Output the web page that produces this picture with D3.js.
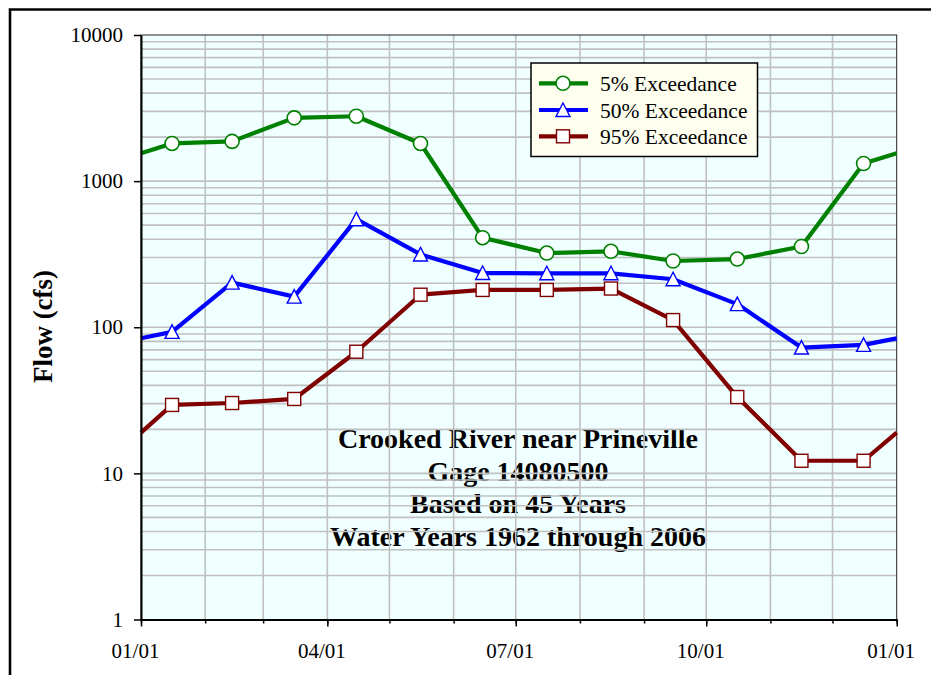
<!DOCTYPE html>
<html>
<head>
<meta charset="utf-8">
<script src="https://cdn.jsdelivr.net/npm/d3@7"></script>
<style>
  html, body { margin: 0; padding: 0; background: #ffffff; }
  svg { display: block; }
</style>
</head>
<body>
<svg id="chart" width="931" height="675"></svg>
<script>
// ---------------- data ----------------
const pointDates = ["2006-01-16","2006-02-14","2006-03-16","2006-04-15","2006-05-16","2006-06-15",
                    "2006-07-16","2006-08-16","2006-09-15","2006-10-16","2006-11-16","2006-12-16"];
const exceed5  = [1810, 1870, 2710, 2780, 1810, 410, 322, 331, 284, 293, 357, 1320];
const exceed50 = [93, 202, 162, 549, 315, 235, 234, 234, 213, 144, 72.6, 75.8];
const exceed95 = [29.4, 30.3, 32.3, 68, 167, 180, 180, 184, 112, 33.3, 12.2, 12.2];
// values at the year boundaries (01/01 on both ends, no marker)
const edge5 = 1550, edge50 = 84, edge95 = 19;
const seriesNames = ["5% Exceedance", "50% Exceedance", "95% Exceedance"];
const yTickValues = [1, 10, 100, 1000, 10000];
const xLabelDates = ["2006-01-01","2006-04-01","2006-07-01","2006-10-01","2007-01-01"];
const noteLines = ["Crooked River near Prineville", "Gage 14080500", "Based on 45 Years", "Water Years 1962 through 2006"];
const yTitle = "Flow (cfs)";

// ---------------- layout ----------------
const svg = d3.select("#chart");
const L = 141, R = 896.7, T = 35, B = 619.5;
const parse = d3.timeParse("%Y-%m-%d");
const start = parse("2006-01-01"), end = parse("2007-01-01");

const x = d3.scaleTime().domain([start, end]).range([L, R]);
const y = d3.scaleLog().domain([1, 10000]).range([B, T]);

function serif(sel, size, bold) {
  sel.attr("font-family", "Liberation Serif").style("font-family", "'Liberation Serif'")
     .style("font-size", size + "px").attr("font-size", size);
  if (bold) sel.attr("font-weight", "bold").style("font-weight", "bold");
  return sel;
}

// outer frame
svg.append("path").attr("d", `M10,680 L10,9.5 L940,9.5`).attr("fill","none")
  .attr("stroke","#000").attr("stroke-width",2.6);

// plot background
svg.append("rect").attr("x",L).attr("y",T).attr("width",R-L).attr("height",B-T).attr("fill","#F0FFFF");

// annotation (behind gridlines)
noteLines.forEach((t,i) => {
  serif(svg.append("text").attr("x",518).attr("y",448 + i*32.5).attr("text-anchor","middle")
    .attr("fill","#000").text(t), 28, true);
});

// gridlines
const grid = svg.append("g").attr("stroke","#C0C0C0").attr("stroke-width",1.6);
y.ticks().filter(v => v > 1 && v < 10000).forEach(v => {
  grid.append("line").attr("x1",L).attr("x2",R).attr("y1",y(v)).attr("y2",y(v));
});
d3.timeMonth.range(d3.timeMonth.offset(start,1), end).forEach(d => {
  grid.append("line").attr("x1",x(d)).attr("x2",x(d)).attr("y1",T).attr("y2",B);
});

// plot border
svg.append("rect").attr("x",L).attr("y",T).attr("width",R-L).attr("height",B-T)
  .attr("fill","none").attr("stroke","#222").attr("stroke-width",1);

// series
const dates = pointDates.map(parse);
const series = [
  {name: seriesNames[0], vals: exceed5,  edge: edge5,  color: "#008000", marker: "circle"},
  {name: seriesNames[1], vals: exceed50, edge: edge50, color: "#0000FF", marker: "triangle"},
  {name: seriesNames[2], vals: exceed95, edge: edge95, color: "#800000", marker: "square"}
];
const line = d3.line().x(d => x(d.date)).y(d => y(d.v));

function drawMarker(g, type, cx, cy, color) {
  if (type === "circle") {
    g.append("circle").attr("cx",cx).attr("cy",cy).attr("r",7)
      .attr("fill","#fff").attr("stroke",color).attr("stroke-width",1.6);
  } else if (type === "triangle") {
    const s = 7;
    g.append("path").attr("d",`M${cx},${cy-s} L${cx+s},${cy+s-0.5} L${cx-s},${cy+s-0.5} Z`)
      .attr("fill","#fff").attr("stroke",color).attr("stroke-width",1.4);
  } else {
    g.append("rect").attr("x",cx-6.5).attr("y",cy-6.5).attr("width",13).attr("height",13)
      .attr("fill","#fff").attr("stroke",color).attr("stroke-width",1.4);
  }
}

series.forEach(s => {
  const pts = [{date: start, v: s.edge}]
    .concat(dates.map((d,i) => ({date: d, v: s.vals[i]})))
    .concat([{date: end, v: s.edge}]);
  svg.append("path").datum(pts).attr("d", line).attr("fill","none")
    .attr("stroke", s.color).attr("stroke-width", 4.2).attr("stroke-linejoin","round");
});
series.forEach(s => {
  const g = svg.append("g");
  dates.forEach((d,i) => drawMarker(g, s.marker, x(d), y(s.vals[i]), s.color));
});

// axes
const yAxis = d3.axisLeft(y).tickValues(yTickValues).tickFormat(d3.format("d"))
  .tickSize(7).tickSizeOuter(0).tickPadding(11);
const gy = svg.append("g").attr("transform",`translate(${L},0)`).call(yAxis);
serif(gy, 21, false);
serif(gy.selectAll("text"), 21, false).attr("fill","#000");
gy.select(".domain").attr("stroke","#000").attr("stroke-width",2);
gy.selectAll(".tick line").attr("stroke","#000").attr("stroke-width",1.5);

const xMinor = d3.axisBottom(x).tickValues(d3.timeMonth.range(start, d3.timeDay.offset(end,1)))
  .tickSize(4).tickSizeOuter(0).tickFormat("");
const gxm = svg.append("g").attr("transform",`translate(0,${B})`).call(xMinor);
gxm.select(".domain").remove();
gxm.selectAll(".tick line").attr("stroke","#000").attr("stroke-width",1.5);

const xAxis = d3.axisBottom(x).tickValues(xLabelDates.map(parse)).tickFormat(d3.timeFormat("%m/%d"))
  .tickSize(7).tickSizeOuter(0).tickPadding(17);
const gx = svg.append("g").attr("transform",`translate(0,${B})`).call(xAxis);
serif(gx, 21, false);
serif(gx.selectAll("text"), 21, false).attr("fill","#000").attr("dx", -6);
gx.select(".domain").attr("stroke","#000").attr("stroke-width",2);
gx.selectAll(".tick line").attr("stroke","#000").attr("stroke-width",1.5);

// y title
serif(svg.append("text").attr("transform","translate(52,326.5) rotate(-90)")
  .attr("text-anchor","middle").text(yTitle), 27, true);

// legend
const lg = svg.append("g");
lg.append("rect").attr("x",531).attr("y",63).attr("width",226.5).attr("height",93.5)
  .attr("fill","#FFFFF0").attr("stroke","#000").attr("stroke-width",1.5);
const rows = [83.3, 110, 136.3];
series.forEach((s,i) => {
  lg.append("line").attr("x1",539).attr("x2",588).attr("y1",rows[i]).attr("y2",rows[i])
    .attr("stroke",s.color).attr("stroke-width",4.2);
  drawMarker(lg, s.marker, 563, rows[i], s.color);
  serif(lg.append("text").attr("x",600).attr("y",rows[i]).attr("dy","0.35em")
    .attr("fill","#000").text(s.name), 21.5, false);
});
</script>
</body>
</html>
